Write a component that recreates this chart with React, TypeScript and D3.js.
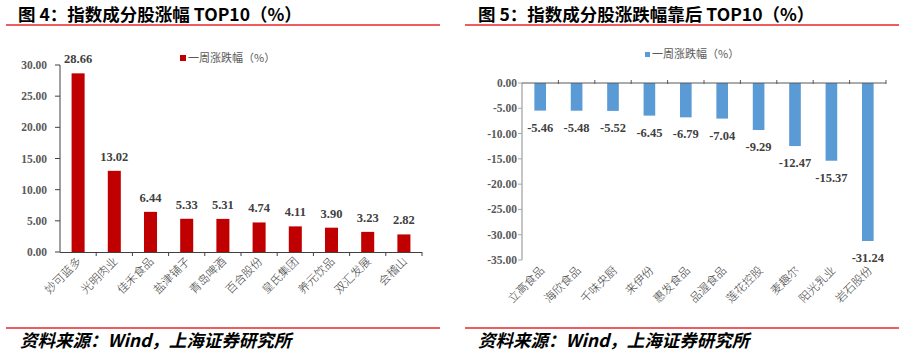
import React from 'react';
import * as d3 from 'd3';

const leftCategories = ['妙可蓝多', '光明肉业', '佳禾食品', '盐津铺子', '青岛啤酒', '百合股份', '皇氏集团', '养元饮品', '双汇发展', '会稽山'];
const leftValues = [28.66, 13.02, 6.44, 5.33, 5.31, 4.74, 4.11, 3.9, 3.23, 2.82];
const leftTicks = [0, 5, 10, 15, 20, 25, 30];

const rightCategories = ['立高食品', '海欣食品', '千味央厨', '来伊份', '惠发食品', '品渥食品', '莲花控股', '麦趣尔', '阳光乳业', '岩石股份'];
const rightValues = [-5.46, -5.48, -5.52, -6.45, -6.79, -7.04, -9.29, -12.47, -15.37, -31.24];
const rightTicks = [0, -5, -10, -15, -20, -25, -30, -35];

const legendLabel = '一周涨跌幅（%）';
const leftTitle = '图 4：指数成分股涨幅 TOP10（%）';
const rightTitle = '图 5：指数成分股涨跌幅靠后 TOP10（%）';
const sourceText = '资料来源：Wind，上海证券研究所';

const SERIF = '"Liberation Serif", "Times New Roman", serif';
const CJK = '"Noto Sans CJK SC", sans-serif';
const fmt = d3.formatLocale({ decimal: '.', thousands: ',', grouping: [3], currency: ['', ''], minus: '-' }).format('.2f');

export default function App() {
  const lx = d3.scaleBand<string>().domain(leftCategories).range([60, 422]).paddingInner(0.64).paddingOuter(0.32);
  const lStep = d3.scaleBand<string>().domain(leftCategories).range([60, 422]);
  const ly = d3.scaleLinear().domain([0, 30]).range([252, 65]);

  const rx = d3.scaleBand<string>().domain(rightCategories).range([522, 886]).paddingInner(0.68).paddingOuter(0.34);
  const rStep = d3.scaleBand<string>().domain(rightCategories).range([522, 886]);
  const ry = d3.scaleLinear().domain([-35, 0]).range([260, 83]);

  return (
    <svg width={904} height={355} style={{ position: 'absolute', left: 0, top: 0, background: '#fff' }}>
      <text x={18} y={21} fontFamily={CJK} fontWeight="bold" fontSize={17.5} fill="#000">{leftTitle}</text>
      <text x={478} y={21} fontFamily={CJK} fontWeight="bold" fontSize={17.5} fill="#000">{rightTitle}</text>
      <line x1={6} x2={440} y1={25} y2={25} stroke="#e8262a" strokeWidth={1.3} />
      <line x1={465} x2={899} y1={25} y2={25} stroke="#e8262a" strokeWidth={1.3} />
      <line x1={6} x2={440} y1={328} y2={328} stroke="#e8262a" strokeWidth={1.3} />
      <line x1={465} x2={899} y1={328} y2={328} stroke="#e8262a" strokeWidth={1.3} />
      <text x={20} y={347} fontFamily={CJK} fontWeight="bold" fontStyle="italic" fontSize={17.5} fill="#000">{sourceText}</text>
      <text x={478} y={347} fontFamily={CJK} fontWeight="bold" fontStyle="italic" fontSize={17.5} fill="#000">{sourceText}</text>

      {/* LEFT CHART */}
      <g>
        {leftCategories.map((c, i) => (
          <rect key={c} x={lx(c)} y={ly(leftValues[i])} width={lx.bandwidth()} height={ly(0) - ly(leftValues[i])} fill="#C00000" />
        ))}
        {leftCategories.map((c, i) => (
          <text key={c} x={lx(c)! + lx.bandwidth() / 2} y={ly(leftValues[i]) - 10} textAnchor="middle"
            fontFamily={SERIF} fontWeight="bold" fontSize={12.5} fill="#404040">{fmt(leftValues[i])}</text>
        ))}
        <line x1={60} x2={60} y1={ly(30)} y2={ly(0)} stroke="#404040" strokeWidth={1} />
        {leftTicks.map(t => (
          <g key={t}>
            <line x1={55} x2={60} y1={ly(t)} y2={ly(t)} stroke="#404040" />
            <text x={47} y={ly(t) + 4} textAnchor="end" fontFamily={SERIF} fontWeight="bold" fontSize={11.5} fill="#595959">{fmt(t)}</text>
          </g>
        ))}
        <line x1={60} x2={422} y1={ly(0) + 0.5} y2={ly(0) + 0.5} stroke="#404040" strokeWidth={1} />
        {leftCategories.map(c => (
          <line key={c} x1={lStep(c)! + lStep.step()} x2={lStep(c)! + lStep.step()} y1={ly(0)} y2={ly(0) + 4} stroke="#404040" />
        ))}
        {leftCategories.map(c => {
          const cx = lx(c)! + lx.bandwidth() / 2 + 4;
          return (
            <text key={c} transform={`translate(${cx},${262}) rotate(-45)`} textAnchor="end" fontFamily={CJK}
              fontSize={11.5} fontWeight={300} fill="#404040">{c}</text>
          );
        })}
        <rect x={180} y={55} width={6} height={6} fill="#C00000" />
        <text x={188} y={62} fontFamily={CJK} fontSize={11} fill="#595959">{legendLabel}</text>
      </g>

      {/* RIGHT CHART */}
      <g>
        {rightCategories.map((c, i) => (
          <rect key={c} x={rx(c)} y={ry(0)} width={rx.bandwidth()} height={ry(rightValues[i]) - ry(0)} fill="#5B9BD5" />
        ))}
        {rightCategories.map((c, i) => (
          <text key={c} x={rx(c)! + rx.bandwidth() / 2} y={ry(rightValues[i]) + 21} textAnchor="middle"
            fontFamily={SERIF} fontWeight="bold" fontSize={12.5} fill="#404040">{fmt(rightValues[i])}</text>
        ))}
        <line x1={522} x2={522} y1={ry(0)} y2={ry(-35)} stroke="#A6A6A6" strokeWidth={1.3} />
        {rightTicks.map(t => (
          <g key={t}>
            <line x1={518} x2={522} y1={ry(t)} y2={ry(t)} stroke="#A6A6A6" />
            <text x={517} y={ry(t) + 4} textAnchor="end" fontFamily={SERIF} fontWeight="bold" fontSize={11.5} fill="#595959">{fmt(t)}</text>
          </g>
        ))}
        <line x1={522} x2={886} y1={ry(0)} y2={ry(0)} stroke="#595959" strokeWidth={1} />
        {rightCategories.map(c => (
          <line key={c} x1={rStep(c)! + rStep.step()} x2={rStep(c)! + rStep.step()} y1={ry(0) - 3} y2={ry(0) + 1} stroke="#595959" />
        ))}
        {rightCategories.map(c => {
          const cx = rx(c)! + rx.bandwidth() / 2 + 5;
          return (
            <text key={c} transform={`translate(${cx},${271}) rotate(-45)`} textAnchor="end" fontFamily={CJK}
              fontSize={11.5} fontWeight={300} fill="#404040">{c}</text>
          );
        })}
        <rect x={645} y={52} width={5} height={5} fill="#5B9BD5" />
        <text x={652} y={58} fontFamily={CJK} fontSize={11} fill="#595959">{legendLabel}</text>
      </g>
    </svg>
  );
}
